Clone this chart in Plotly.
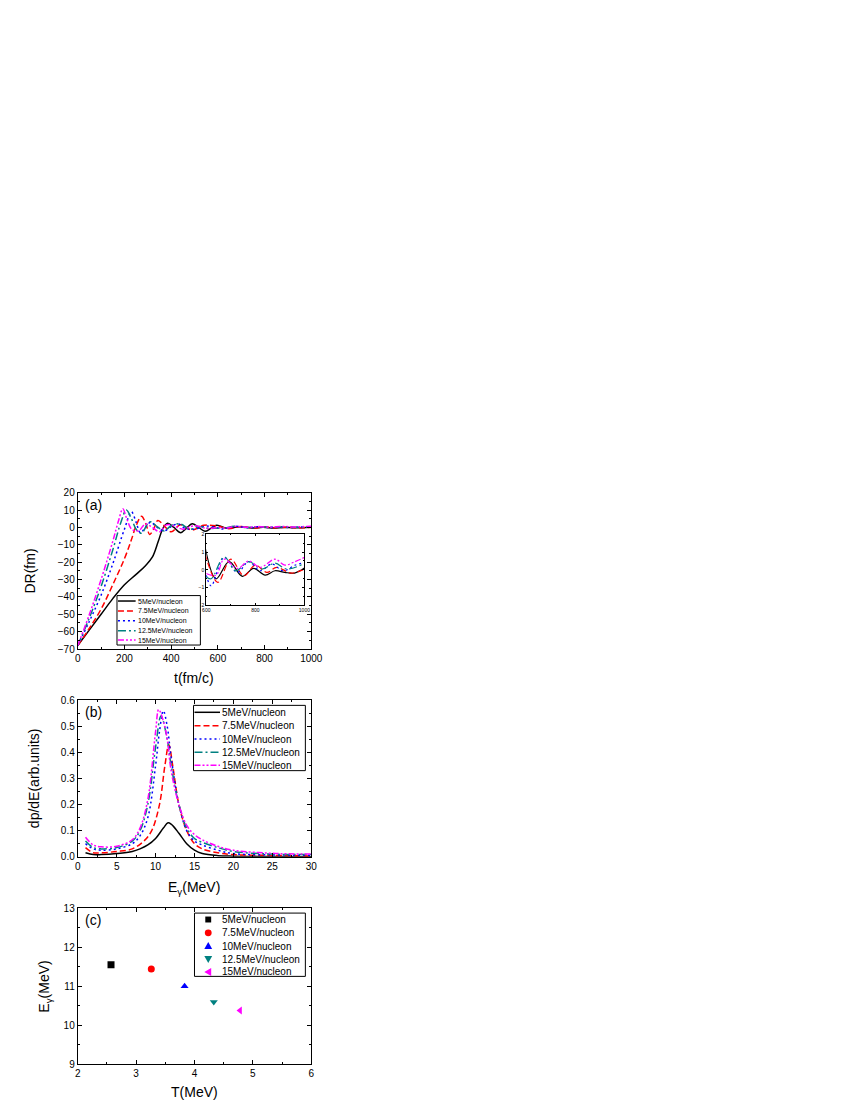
import plotly.graph_objects as go

# ---- data ----
labels = ["5MeV/nucleon", "7.5MeV/nucleon", "10MeV/nucleon", "12.5MeV/nucleon", "15MeV/nucleon"]

# (a) DR(fm) vs t(fm/c)
t_5 = [0, 50, 100, 150, 200, 250, 290, 320, 345, 365, 385, 412, 441, 465, 490, 518, 545, 570, 595, 640, 693, 747, 793, 840, 880, 920, 960, 1000]
dr_5 = [-68, -59, -50, -41, -33, -27, -22, -17, -8, -0.5, 2.4, 0, -3, -0.5, 2.2, 0, -2.2, -0.5, 1.3, -0.5, 0.46, -0.36, 0.08, -0.29, -0.05, -0.14, -0.18, 0.1]
t_75 = [0, 50, 100, 150, 200, 230, 250, 273, 292, 308, 325, 343, 370, 400, 440, 490, 540, 595, 647, 700, 753, 800, 847, 887, 947, 1000]
dr_75 = [-68, -58, -47, -33, -18, -7, 1, 6.5, 2, -4, -1, 4, 1, -2.5, 1.5, -1.5, 1.2, 0.9, -0.7, 0.6, -0.33, 0.27, -0.14, 0.14, -0.18, 0.05]
t_10 = [0, 50, 100, 150, 200, 230, 250, 268, 290, 312, 340, 370, 400, 430, 460, 500, 550, 600, 620, 673, 727, 773, 820, 867, 913, 960, 1000]
dr_10 = [-68, -54, -39, -21, -1, 9, 3, -3, 0, 3, 0, -2, 0.5, 2, -0.5, -1, 0.8, -0.3, -0.9, 0.7, -0.14, 0.46, -0.05, 0.33, -0.05, 0.25, 0.42]
t_125 = [0, 50, 100, 150, 185, 208, 230, 250, 273, 308, 340, 370, 400, 440, 480, 520, 560, 600, 620, 673, 720, 773, 827, 880, 927, 1000]
dr_125 = [-68, -52, -34, -13, 3, 10, 5, -1, -3.3, 3.3, 0.5, -2, 1, 2, -1, 0.5, -0.5, -0.4, -0.5, 0.73, -0.05, 0.46, 0.05, 0.38, 0.05, 0.36]
t_15 = [0, 50, 100, 150, 175, 193, 210, 231, 260, 290, 320, 350, 380, 410, 450, 500, 550, 600, 640, 673, 727, 773, 820, 880, 920, 960, 1000]
dr_15 = [-68, -50, -30, -8, 4, 10.8, 5, -1, -2, 2, 0, -2.5, 1.5, 1, -1, 1, -0.5, -0.2, -0.3, 0.6, 0.08, 0.5, 0.14, 0.6, 0.27, 0.45, 0.7]

# (b) dp/dE vs E_gamma
e_5 = [1, 2, 3, 5, 7, 8, 9, 10, 11, 11.6, 12, 13, 14, 15, 16, 18, 20, 25, 30]
p_5 = [0.015, 0.008, 0.008, 0.012, 0.02, 0.03, 0.045, 0.07, 0.11, 0.13, 0.125, 0.09, 0.05, 0.025, 0.012, 0.004, 0.002, 0.001, 0.0]
e_75 = [1, 2, 3, 5, 7, 8.5, 9.5, 10.5, 11.2, 11.7, 12.2, 13, 14, 15, 16, 18, 20, 25, 30]
p_75 = [0.035, 0.015, 0.015, 0.02, 0.03, 0.06, 0.1, 0.2, 0.35, 0.43, 0.35, 0.2, 0.1, 0.05, 0.03, 0.015, 0.008, 0.005, 0.003]
e_10 = [1, 2, 3, 5, 7, 8, 9, 10, 10.5, 11, 11.5, 12, 13, 14, 15, 16, 18, 20, 25, 30]
p_10 = [0.05, 0.03, 0.025, 0.03, 0.05, 0.08, 0.15, 0.35, 0.48, 0.56, 0.5, 0.38, 0.2, 0.1, 0.06, 0.045, 0.025, 0.012, 0.007, 0.005]
e_125 = [1, 2, 3, 5, 7, 8, 9, 10, 10.7, 11.5, 12, 13, 14, 15, 16, 18, 20, 25, 30]
p_125 = [0.06, 0.035, 0.03, 0.035, 0.06, 0.1, 0.2, 0.42, 0.54, 0.45, 0.35, 0.2, 0.11, 0.07, 0.055, 0.035, 0.02, 0.01, 0.008]
e_15 = [1, 2, 3, 5, 7, 8, 9, 10, 10.4, 11, 11.5, 12, 13, 14, 15, 16, 18, 20, 25, 30]
p_15 = [0.075, 0.045, 0.038, 0.04, 0.065, 0.11, 0.22, 0.48, 0.565, 0.52, 0.45, 0.33, 0.2, 0.12, 0.085, 0.065, 0.04, 0.025, 0.013, 0.01]

# (c) E_gamma vs T
temp = [2.57, 3.26, 3.83, 4.33, 4.78]
e_gamma = [11.55, 11.44, 11.0, 10.6, 10.38]

colors = ["#000000", "#FF0000", "#0000FF", "#008080", "#FF00FF"]
dashes = ["solid", "6px,3px", "2px,3px", "8px,3px,2px,3px", "6px,2px,2px,2px,2px,2px"]
symbols = ["square", "circle", "triangle-up", "triangle-down", "triangle-left"]

t_sets = [(t_5, dr_5), (t_75, dr_75), (t_10, dr_10), (t_125, dr_125), (t_15, dr_15)]
e_sets = [(e_5, p_5), (e_75, p_75), (e_10, p_10), (e_125, p_125), (e_15, p_15)]

FONT = "Liberation Sans, Arial, sans-serif"
W, H = 850, 1100


def px(xp, yp):
    # pixel position -> paper coordinates
    return xp / W, 1 - yp / H


fig = go.Figure()

for n, (tt, dd) in enumerate(t_sets):
    fig.add_trace(go.Scatter(x=tt, y=dd, mode="lines", line_shape="spline",
                             line=dict(color=colors[n], width=1.5, dash=dashes[n]),
                             name=labels[n], showlegend=False, xaxis="x", yaxis="y"))
    # inset: same data, zoomed on t >= 600
    ti = [a for a in tt if a >= 590]
    di = [b for a, b in zip(tt, dd) if a >= 590]
    fig.add_trace(go.Scatter(x=ti, y=di, mode="lines", line_shape="spline",
                             line=dict(color=colors[n], width=1.2, dash=dashes[n]),
                             showlegend=False, xaxis="x4", yaxis="y4"))

for n, (ee, pp) in enumerate(e_sets):
    fig.add_trace(go.Scatter(x=ee, y=pp, mode="lines", line_shape="spline",
                             line=dict(color=colors[n], width=1.5, dash=dashes[n]),
                             name=labels[n], showlegend=False, xaxis="x2", yaxis="y2"))

for n in range(5):
    fig.add_trace(go.Scatter(x=[temp[n]], y=[e_gamma[n]], mode="markers",
                             marker=dict(color=colors[n], symbol=symbols[n], size=7, line=dict(width=0)),
                             name=labels[n], showlegend=False, xaxis="x3", yaxis="y3"))


def ax(domain, rng, dtick, minor, anchor, size=10, tl=4):
    return dict(domain=domain, range=rng, dtick=dtick, anchor=anchor,
                ticks="inside", ticklen=tl, tickwidth=1, tickcolor="black",
                mirror="allticks", showline=True, linecolor="black", linewidth=1,
                showgrid=False, zeroline=False,
                tickfont=dict(family=FONT, size=size, color="black"),
                minor=dict(dtick=minor, ticks="inside", ticklen=tl / 2, tickcolor="black", showgrid=False))


xa = [67 / W, 305 / W]
fig.update_layout(
    width=W, height=H, margin=dict(l=0, r=0, t=0, b=0),
    paper_bgcolor="white", plot_bgcolor="white",
    font=dict(family=FONT, color="black"), showlegend=False,
    xaxis=ax(xa, [0, 1000], 200, 100, "y"),
    yaxis=ax([1 - 642 / H, 1 - 484 / H], [-70, 20], 10, 5, "x"),
    xaxis2=ax(xa, [0, 30], 5, 2.5, "y2"),
    yaxis2=ax([1 - 852 / H, 1 - 694 / H], [0, 0.6], 0.1, 0.05, "x2"),
    xaxis3=ax(xa, [2, 6], 1, 0.5, "y3"),
    yaxis3=ax([1 - 1062 / H, 1 - 904 / H], [9, 13], 1, 0.5, "x3"),
    xaxis4=ax([198 / W, 298 / W], [600, 1000], 200, 100, "y4", size=5, tl=2),
    yaxis4=ax([1 - 598 / H, 1 - 526 / H], [-2, 2], 1, 0.5, "x4", size=5, tl=2),
)
fig.update_layout(yaxis2_tickformat=".1f")


def legend_box(box, rows, key_x, text_x, fsize, markers=False):
    # box: (left, top, right, bottom) in pixels
    x0, y0 = px(box[0], box[1])
    x1, y1 = px(box[2], box[3])
    fig.add_shape(type="rect", xref="paper", yref="paper", x0=x0, y0=y1, x1=x1, y1=y0,
                  fillcolor="white", line=dict(color="black", width=1))
    for n, ry in enumerate(rows):
        if markers:
            cx, cy = key_x, ry
            s = 3.5
            if symbols[n] == "square":
                a, b = px(cx - s + 0.5, cy - s + 0.5)
                c, d = px(cx + s - 0.5, cy + s - 0.5)
                fig.add_shape(type="rect", xref="paper", yref="paper", x0=a, y0=d, x1=c, y1=b,
                              fillcolor=colors[n], line=dict(width=0))
            elif symbols[n] == "circle":
                a, b = px(cx - s, cy - s)
                c, d = px(cx + s, cy + s)
                fig.add_shape(type="circle", xref="paper", yref="paper", x0=a, y0=d, x1=c, y1=b,
                              fillcolor=colors[n], line=dict(width=0))
            else:
                if symbols[n] == "triangle-up":
                    pts = [(cx, cy - s - 0.5), (cx + s + 0.5, cy + s - 0.5), (cx - s - 0.5, cy + s - 0.5)]
                elif symbols[n] == "triangle-down":
                    pts = [(cx, cy + s + 0.5), (cx + s + 0.5, cy - s + 0.5), (cx - s - 0.5, cy - s + 0.5)]
                else:
                    pts = [(cx - s - 0.5, cy), (cx + s - 0.5, cy - s - 0.5), (cx + s - 0.5, cy + s + 0.5)]
                pp = [px(u, v) for u, v in pts]
                path = "M " + " L ".join(f"{u:.5f},{v:.5f}" for u, v in pp) + " Z"
                fig.add_shape(type="path", xref="paper", yref="paper", path=path,
                              fillcolor=colors[n], line=dict(width=0))
        else:
            a, b = px(key_x[0], ry)
            c, _ = px(key_x[1], ry)
            fig.add_shape(type="line", xref="paper", yref="paper", x0=a, y0=b, x1=c, y1=b,
                          line=dict(color=colors[n], width=1.5, dash=dashes[n]))
        tx, ty = px(text_x, ry)
        fig.add_annotation(text=labels[n], x=tx, y=ty, xref="paper", yref="paper",
                           xanchor="left", yanchor="middle", showarrow=False, borderpad=0,
                           font=dict(family=FONT, size=fsize, color="black"))


rows_a = [593.5, 603.5, 613.5, 623.5, 633]
legend_box((107, 588, 192, 638), rows_a, (108, 126), 127, 7)
rows_b = [706, 719.5, 733, 746.3, 759.5]
legend_box((185, 699, 299, 765), rows_b, (186, 212), 212.5, 10)
rows_c = [915.5, 929, 942.3, 955.5, 968.5]
legend_box((186, 909, 299, 973), rows_c, 200, 212.5, 10, markers=True)

notes = [
    ("(a)", 72, 496, 0),
    ("(b)", 72, 706, 0),
    ("(c)", 72, 916, 0),
    ("t(fm/c)", 186, 671, 0),
    ("E<sub>γ</sub>(MeV)", 186, 884, 0),
    ("T(MeV)", 186, 1090, 0),
    ("DR(fm)", 18, 563, -90),
    ("dp/dE(arb.units)", 22, 773, -90),
    ("E<sub>γ</sub>(MeV)", 34, 983, -90),
]
for txt, xp, yp, ang in notes:
    ax_, ay_ = px(xp, yp)
    fig.add_annotation(text=txt, x=ax_, y=ay_, xref="paper", yref="paper",
                       xanchor="left" if txt.startswith("(") else "center", yanchor="middle",
                       textangle=ang, showarrow=False, font=dict(family=FONT, size=14, color="black"))

fig.write_html("out.html")
